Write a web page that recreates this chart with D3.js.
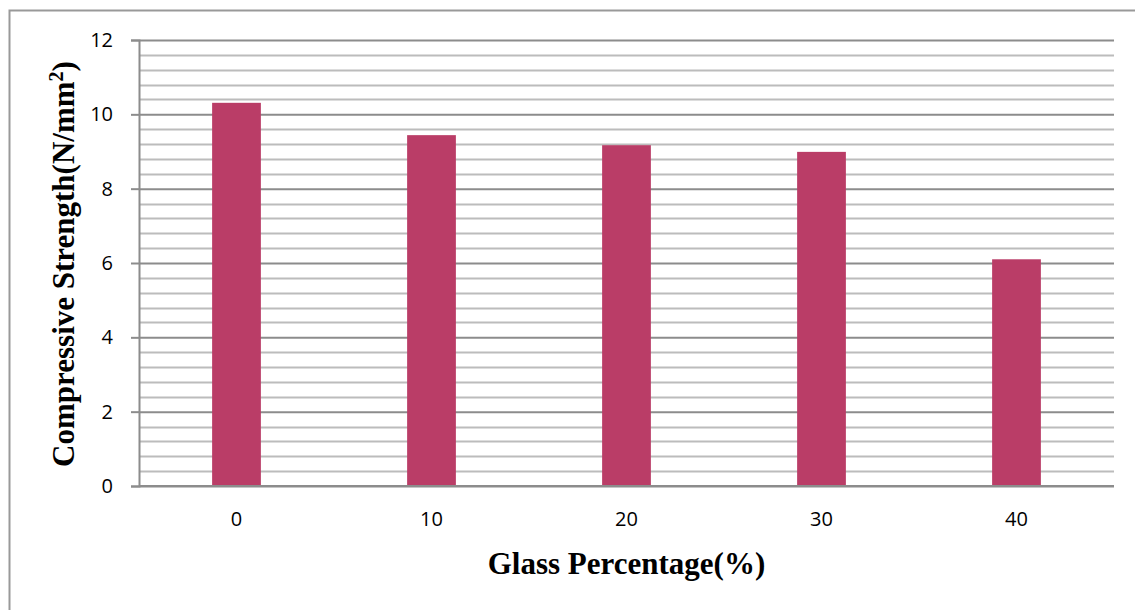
<!DOCTYPE html>
<html><head><meta charset="utf-8">
<script src="https://cdn.jsdelivr.net/npm/d3@7"></script>
<style>body{margin:0;background:#fff;overflow:hidden}</style>
</head><body>
<svg id="c" width="1135" height="610"></svg>
<script>
const categories = ["0", "10", "20", "30", "40"];
const values = [10.31, 9.44, 9.17, 8.99, 6.10];
const yTicks = [0, 2, 4, 6, 8, 10, 12];
const minorTicks = d3.range(0, 12.001, 0.4);
const xTitle = "Glass Percentage(%)";
const yTitle = "Compressive Strength(N/mm";

const svg = d3.select("#c");
const L = 139, R = 1114, T = 40, B = 486;
const x = d3.scaleBand().domain(categories).range([L, R]).paddingInner(0.75).paddingOuter(0.375);
const y = d3.scaleLinear().domain([0, 12]).range([B, T]);

// frame
svg.append("rect").attr("x", 9.5).attr("y", 10.5).attr("width", 1300).attr("height", 800)
  .attr("fill", "none").attr("stroke", "#999").attr("stroke-width", 2);

// minor gridlines
svg.append("g").selectAll("line").data(minorTicks.filter(v => Math.abs(v/2 - Math.round(v/2)) > 1e-6))
  .join("line").attr("x1", L).attr("x2", R)
  .attr("y1", d => Math.round(y(d)) + 0.5).attr("y2", d => Math.round(y(d)) + 0.5)
  .attr("stroke", "#bcbcbc").attr("stroke-width", 2);

// major gridlines + y axis
const yAxis = d3.axisLeft(y).tickValues(yTicks).tickSize(8).tickPadding(18).tickFormat(d3.format("d"));
const gy = svg.append("g").attr("transform", `translate(${L},0)`).call(yAxis);
gy.select(".domain").attr("stroke", "#8c8c8c").attr("stroke-width", 2);
gy.selectAll(".tick line").attr("stroke", "#8c8c8c").attr("stroke-width", 2);
gy.selectAll(".tick").append("line").attr("x1", 0).attr("x2", R - L)
  .attr("stroke", "#8c8c8c").attr("stroke-width", 2);
gy.selectAll(".tick text").attr("font-family", "'Open Sans', sans-serif").attr("font-size", 20).attr("fill", "#000");

// bars
svg.append("g").selectAll("rect").data(values).join("rect")
  .attr("x", (d, i) => x(categories[i])).attr("width", x.bandwidth())
  .attr("y", d => y(d)).attr("height", d => y(0) - y(d))
  .attr("fill", "#ba3d67");

// x axis
const xAxis = d3.axisBottom(x).tickSize(0).tickPadding(26);
const gx = svg.append("g").attr("transform", `translate(0,${B})`).call(xAxis);
gx.select(".domain").remove();
gx.selectAll(".tick text").attr("font-family", "'Open Sans', sans-serif").attr("font-size", 20).attr("fill", "#000");
svg.append("line").attr("x1", L).attr("x2", R).attr("y1", B).attr("y2", B)
  .attr("stroke", "#8c8c8c").attr("stroke-width", 2);

// titles
svg.append("text").attr("x", (L + R) / 2).attr("y", 574).attr("text-anchor", "middle")
  .attr("font-family", "'Liberation Serif', 'Times New Roman', serif").attr("font-weight", "bold")
  .attr("font-size", 31).text(xTitle);
const yt = svg.append("text").attr("transform", "translate(74,264) rotate(-90)").attr("text-anchor", "middle")
  .attr("font-family", "'Liberation Serif', 'Times New Roman', serif").attr("font-weight", "bold")
  .attr("font-size", 31);
yt.append("tspan").text(yTitle);
yt.append("tspan").attr("dy", -11).attr("font-size", 20).text("2");
yt.append("tspan").attr("dy", 11).text(")");
</script>
</body></html>
